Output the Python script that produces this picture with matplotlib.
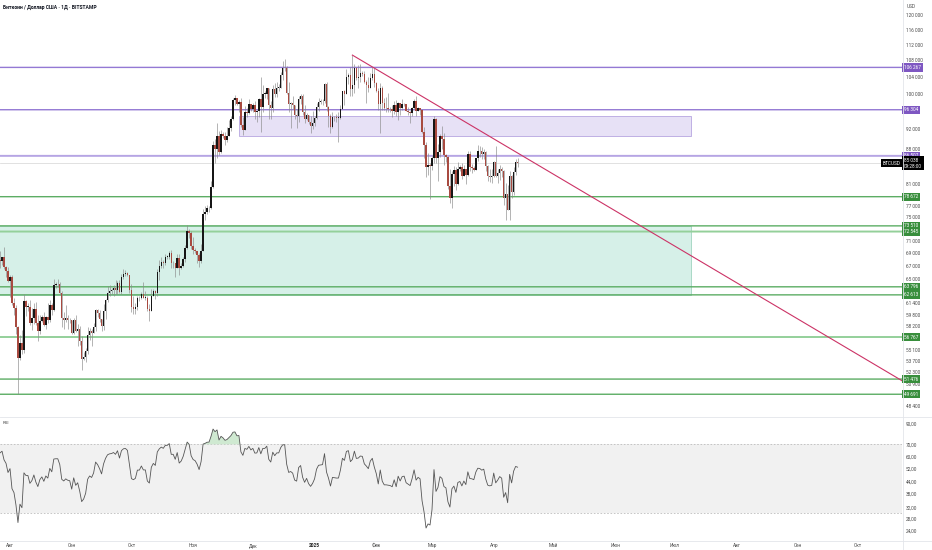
import numpy as np
import pandas as pd
import matplotlib
matplotlib.use("Agg")
import matplotlib.pyplot as plt
import matplotlib.dates as mdates
from matplotlib.patches import Rectangle
from matplotlib.lines import Line2D
from matplotlib.ticker import NullLocator
from matplotlib.transforms import blended_transform_factory

plt.rcParams['font.family'] = ['Roboto', 'DejaVu Sans']

############################ Dados do gráfico ############################
# preços em milhares de USD, velas diárias BTCUSD (Bitstamp)

# fechamentos anteriores à janela visível, só para aquecer o RSI (01/06 a 26/07/2024)
warmup_close = [67.8, 67.8, 68.8, 70.6, 71.1, 70.8, 69.3, 69.3, 69.6, 69.5,
                67.3, 68.2, 66.8, 66.0, 66.2, 66.6, 66.5, 65.2, 65.0, 64.9,
                64.1, 64.3, 63.2, 60.3, 61.8, 60.9, 61.6, 60.3, 60.9, 62.7,
                62.9, 62.1, 60.2, 57.0, 56.7, 58.2, 55.9, 56.7, 58.0, 57.7,
                57.3, 57.9, 59.2, 60.8, 64.8, 65.1, 64.1, 63.9, 66.7, 67.1,
                68.2, 67.6, 65.9, 65.4, 65.8, 67.9]

first_day = "2024-07-27"
first_open = 67.9

close = (
    [67.8, 68.3, 66.8, 66.2, 64.6] +  # jul
    [65.3, 61.5, 60.7, 58.1, 54.0, 56.0, 55.1, 61.7, 60.9, 60.9, 58.7, 59.3, 60.6, 58.7, 57.5, 58.9,
     59.5, 58.4, 59.5, 59.0, 61.2, 60.4, 64.1, 64.2, 64.2, 62.9, 59.4, 59.0, 59.4, 59.1, 59.0] +  # ago
    [57.3, 59.1, 57.5, 57.9, 56.2, 53.9, 54.2, 54.9, 57.0, 57.6, 57.3, 58.1, 60.5, 60.0, 59.2,
     58.2, 60.3, 61.8, 62.9, 63.2, 63.3, 63.6, 63.3, 64.3, 63.1, 65.2, 65.8, 65.9, 65.6, 63.3] +  # set
    [60.8, 60.6, 60.8, 62.1, 62.1, 62.8, 62.2, 62.2, 60.6, 60.3, 62.5, 63.2, 62.9, 66.0, 67.0, 67.6,
     67.4, 68.4, 68.4, 69.0, 67.4, 67.4, 66.7, 68.2, 66.6, 67.0, 68.0, 69.9, 72.7, 72.3, 70.2] +  # out
    [69.5, 69.3, 68.7, 67.8, 69.4, 75.6, 76.0, 76.6, 76.7, 80.4, 88.7, 87.9, 90.5, 87.3, 91.1,
     90.6, 89.8, 90.5, 92.3, 94.3, 98.4, 98.9, 97.7, 98.0, 93.0, 91.9, 95.9, 95.6, 97.5, 96.4] +  # nov
    [97.3, 95.9, 96.0, 98.8, 97.0, 99.9, 99.9, 101.2, 97.4, 96.6, 101.1, 100.0, 101.4, 101.4, 104.3, 106.1,
     106.1, 100.2, 97.5, 97.8, 97.3, 95.2, 94.9, 98.7, 99.4, 95.8, 94.2, 95.2, 93.6, 92.8, 93.4] +  # dez
    [94.4, 96.9, 98.1, 98.2, 98.3, 102.2, 96.9, 95.0, 92.5, 94.7, 94.6, 94.5, 94.5, 96.5, 100.5, 99.9,
     104.0, 104.4, 101.1, 102.0, 106.1, 103.7, 103.9, 104.8, 104.7, 102.6, 102.0, 101.3, 103.7, 104.7, 102.4] +  # jan
    [100.6, 97.7, 101.4, 97.8, 96.6, 96.6, 96.5, 96.4, 96.1, 97.4, 95.7, 97.8, 96.6, 97.5,
     97.6, 96.1, 95.8, 95.5, 96.6, 98.3, 96.1, 96.6, 96.3, 91.5, 88.7, 84.3, 84.7, 84.4] +  # fev
    [86.0, 94.3, 86.1, 87.2, 90.6, 89.9, 86.7, 86.2, 80.7, 78.5, 82.9, 83.7, 81.1, 84.0, 84.3, 82.6,
     84.0, 82.7, 86.8, 84.2, 84.1, 83.8, 86.1, 87.5, 87.4, 86.9, 87.2, 84.4, 82.6, 82.4, 82.5] +  # mar
    [85.2, 82.5, 83.1, 83.9, 83.5, 78.4, 79.2, 76.3, 82.6, 79.6, 83.4, 85.3, 85.038]  # abr
)

high = (
    [69.4, 68.4, 70.0, 66.9, 66.8] +
    [65.6, 65.6, 62.2, 61.1, 58.3, 57.0, 57.7, 62.7, 61.8, 61.5, 61.8, 60.7, 61.5, 61.6, 59.8, 59.8,
     59.7, 60.2, 59.6, 61.4, 61.8, 61.4, 64.9, 64.5, 65.0, 64.5, 63.2, 60.2, 61.2, 59.8, 59.4] +
    [59.0, 59.4, 59.8, 58.5, 58.3, 56.9, 54.8, 55.3, 58.1, 58.0, 57.9, 58.6, 60.6, 60.6, 60.4,
     59.2, 61.3, 62.0, 63.9, 64.1, 63.6, 64.0, 64.8, 64.6, 64.8, 65.8, 66.5, 66.3, 66.1, 65.6] +
    [64.2, 62.4, 61.5, 62.5, 62.4, 63.0, 64.5, 63.2, 62.5, 61.3, 63.4, 63.5, 63.3, 66.5, 67.9, 68.4,
     67.9, 68.9, 68.7, 69.4, 69.5, 67.8, 67.5, 68.8, 68.8, 67.4, 68.3, 70.3, 73.6, 72.9, 72.7] +
    [71.6, 69.9, 69.4, 69.0, 70.5, 76.4, 76.9, 77.2, 76.9, 81.5, 89.6, 89.9, 93.4, 91.7, 91.8,
     91.4, 91.4, 92.5, 94.0, 94.8, 98.9, 99.6, 98.9, 98.6, 98.9, 94.7, 97.2, 96.6, 98.7, 97.5] +
    [97.9, 98.2, 96.3, 99.0, 104.0, 101.9, 100.5, 101.4, 101.3, 98.3, 101.9, 102.5, 102.6, 102.3, 105.2, 107.8,
     108.3, 106.5, 102.8, 98.0, 99.5, 97.4, 96.4, 99.4, 99.9, 99.9, 97.3, 95.5, 95.2, 94.9, 96.1] +
    [94.9, 97.8, 98.9, 98.7, 98.8, 102.5, 102.7, 97.2, 95.3, 95.8, 94.9, 95.4, 95.9, 97.3, 100.6, 100.8,
     105.8, 104.9, 106.3, 109.35, 107.1, 106.3, 106.8, 107.1, 105.3, 105.5, 103.2, 103.8, 104.8, 106.4, 106.0] +
    [102.8, 101.4, 102.5, 101.8, 99.0, 99.2, 100.1, 96.9, 97.3, 98.3, 98.5, 98.1, 97.9, 98.8,
     97.9, 97.7, 97.0, 96.0, 96.9, 98.7, 99.5, 96.9, 96.6, 96.5, 92.5, 89.3, 87.0, 85.1] +
    [86.5, 95.0, 94.4, 88.9, 91.0, 92.8, 91.2, 86.9, 86.5, 84.0, 83.6, 84.4, 84.3, 85.3, 84.7, 85.0,
     84.7, 84.0, 87.4, 87.4, 84.8, 84.5, 86.1, 88.7, 88.5, 88.3, 87.8, 87.5, 84.6, 83.9, 83.9] +
    [85.5, 88.5, 83.9, 84.7, 84.2, 83.8, 81.2, 80.9, 83.5, 82.7, 84.3, 85.9, 86.1]
)

low = (
    [66.7, 67.1, 66.5, 65.3, 64.5] +
    [62.3, 61.2, 59.8, 57.2, 49.691, 53.8, 54.6, 54.7, 59.6, 60.3, 58.4, 57.7, 58.5, 58.4, 56.2, 57.1,
     58.8, 58.2, 57.8, 58.6, 58.8, 59.8, 60.3, 63.6, 63.8, 62.8, 58.1, 57.8, 58.8, 57.9, 58.7] +
    [57.2, 57.1, 57.4, 55.6, 55.7, 52.6, 53.8, 53.6, 54.6, 56.4, 55.6, 57.3, 57.6, 59.5, 58.8,
     57.5, 57.7, 59.2, 61.6, 62.4, 62.8, 62.4, 62.7, 62.7, 62.9, 62.7, 64.9, 65.4, 65.4, 62.9] +
    [60.2, 59.9, 59.9, 60.5, 61.7, 62.0, 62.1, 61.9, 60.3, 58.9, 60.4, 62.4, 62.0, 62.4, 64.8, 66.7,
     66.7, 67.1, 68.1, 68.1, 66.6, 66.6, 65.3, 66.6, 65.6, 66.5, 66.8, 67.6, 69.7, 71.4, 69.7] +
    [68.8, 69.0, 67.5, 66.8, 67.5, 69.4, 74.5, 75.6, 75.9, 76.5, 80.2, 85.1, 86.1, 86.7, 87.1,
     90.1, 88.8, 89.4, 90.7, 91.6, 94.1, 97.4, 97.3, 95.8, 92.6, 90.8, 91.8, 94.7, 95.4, 96.1] +
    [95.7, 94.3, 93.6, 94.7, 91.5, 95.9, 99.0, 98.7, 94.2, 94.3, 95.7, 99.3, 99.2, 100.6, 101.2, 103.3,
     105.3, 100.0, 95.7, 92.2, 96.4, 94.2, 92.4, 93.5, 97.6, 95.2, 93.4, 94.1, 93.2, 91.3, 92.0] +
    [92.8, 94.2, 96.1, 97.5, 97.3, 97.9, 96.1, 92.5, 91.2, 92.2, 93.8, 93.7, 89.3, 94.3, 96.5, 97.3,
     99.9, 102.3, 99.5, 99.5, 100.1, 103.3, 101.2, 102.8, 104.1, 102.5, 97.8, 100.3, 101.3, 103.3, 101.6] +
    [100.3, 96.2, 91.2, 96.2, 96.2, 95.7, 95.7, 95.7, 94.7, 95.3, 94.9, 94.1, 95.2, 96.3,
     97.2, 96.0, 95.2, 93.4, 95.0, 96.4, 94.8, 96.0, 95.2, 91.2, 86.1, 82.3, 82.8, 78.2] +
    [83.7, 85.1, 85.1, 81.5, 86.3, 87.8, 84.7, 85.2, 80.0, 77.5, 76.6, 80.6, 79.9, 80.8, 83.6, 82.0,
     82.5, 81.1, 82.5, 83.6, 83.2, 83.6, 83.8, 85.5, 86.3, 85.9, 85.8, 83.6, 81.6, 81.4, 81.3] +
    [82.4, 82.3, 81.2, 81.7, 82.4, 77.2, 74.5, 76.2, 74.6, 78.4, 78.9, 82.8, 84.3]
)

# níveis horizontais desenhados no gráfico
purple_levels = [106267, 96304, 86507]
green_levels = [78672, 73510, 72545, 63796, 62613, 56767, 51476, 49691]
last_price = 85038
time_left = "09:28:00"

# zonas (datas inicial/final, preço inferior/superior)
purple_zone = ("2024-11-24", "2025-07-09", 90600, 94900)
green_zone = ("2024-07-01", "2025-07-09", 62613, 73510)

# linha de tendência (dois pontos de ancoragem)
trend_pts = [("2025-01-20", 109350), ("2025-04-24", 84500)]

price_ticks = [120000, 116000, 112000, 108000, 104000, 100000, 92000, 88000, 81000,
               77000, 75000, 71000, 69000, 67000, 65000, 61400, 59800, 58200, 55100,
               53700, 52300, 50900, 48400]
rsi_ticks = [90, 70, 60, 52, 44, 38, 32, 28, 24]
month_labels = ['Авг', 'Сен', 'Окт', 'Ноя', 'Дек', '2025', 'Фев', 'Мар', 'Апр',
                'Май', 'Июн', 'Июл', 'Авг', 'Сен', 'Окт']
title = "Биткоин / Доллар США · 1Д · BITSTAMP"

########################################################################

c = np.array(close) * 1000
h = np.array(high) * 1000
l = np.array(low) * 1000
o = np.concatenate([[first_open * 1000], c[:-1]])
h = np.maximum(h, np.maximum(o, c))
l = np.minimum(l, np.minimum(o, c))
dates = pd.date_range(first_day, periods=len(c), freq="D")
x = mdates.date2num(dates.to_pydatetime())

# RSI 14 (Wilder)
allc = pd.Series(np.concatenate([np.array(warmup_close) * 1000, c]))
d = allc.diff()
g = d.clip(lower=0).ewm(alpha=1/14, adjust=False).mean()
ls = (-d.clip(upper=0)).ewm(alpha=1/14, adjust=False).mean()
rsi = (100 - 100 / (1 + g / ls)).to_numpy()[len(warmup_close):]

W, H = 932, 550
fig = plt.figure(figsize=(W / 100, H / 100), dpi=100)
fig.patch.set_facecolor('white')

def px_rect(x0, y0, x1, y1):
  return [x0 / W, 1 - y1 / H, (x1 - x0) / W, (y1 - y0) / H]

ax = fig.add_axes(px_rect(0, 0, 902, 415))
axr = fig.add_axes(px_rect(0, 418, 902, 540), sharex=ax)

aug1 = mdates.date2num(pd.Timestamp("2024-08-01").to_pydatetime())
ppd = 1.9906
xl = (aug1 - 10 / ppd, aug1 + 892 / ppd)

lab_fs = 3.4
txt_col = '#4a4a4a'

# --- painel de preço ---
ax.set_yscale('log')
ax.set_ylim(47350, 124300)
ax.set_xlim(*xl)

# zonas
for (d0, d1, p0, p1), fc, ec in [(green_zone, '#d6f0e8', '#9fd4bf'),
                                  (purple_zone, '#e7e1f6', '#b7a6e0')]:
  x0 = mdates.date2num(pd.Timestamp(d0).to_pydatetime())
  x1 = mdates.date2num(pd.Timestamp(d1).to_pydatetime())
  ax.add_patch(Rectangle((x0, p0), x1 - x0, p1 - p0, fc=fc, ec=ec, lw=0.6, zorder=1))

# níveis
thick = {86507, 72545, 56767}
for v in purple_levels:
  ax.axhline(v, color='#b6a5e4' if v in thick else '#9479d4',
             lw=1.4 if v in thick else 1.0, zorder=2, snap=False)
for v in green_levels:
  ax.axhline(v, color='#94d09a' if v in thick else '#5cad64',
             lw=1.4 if v in thick else 1.0, zorder=2, snap=False)
ax.axhline(last_price, color='#d4d4d4', lw=0.5, zorder=2)

# velas
up = c >= o
body_lo = np.minimum(o, c)
body_h = np.maximum(np.abs(c - o), c * 0.0012)
ax.vlines(x, l, h, color='#8a8a8a', lw=0.45, zorder=3)
ax.bar(x[up], body_h[up], bottom=body_lo[up], width=0.72, color='#161616', lw=0, zorder=4)
ax.bar(x[~up], body_h[~up], bottom=body_lo[~up], width=0.72, color='#a84a40', lw=0, zorder=4)

# linha de tendência estendida até a borda direita
tx = [mdates.date2num(pd.Timestamp(t).to_pydatetime()) for t, _ in trend_pts]
ty = [np.log(p) for _, p in trend_pts]
slope = (ty[1] - ty[0]) / (tx[1] - tx[0])
x_end = xl[1] + 5
ax.plot([tx[0], x_end], [trend_pts[0][1], np.exp(ty[0] + slope * (x_end - tx[0]))],
        color='#cc3366', lw=0.8, zorder=5)

ax.yaxis.tick_right()
ax.yaxis.set_minor_locator(NullLocator())
ax.set_yticks(price_ticks)
ax.set_yticklabels([f"{v:,}".replace(",", " ") for v in price_ticks])
ax.tick_params(axis='y', length=0, pad=2.8, labelsize=lab_fs, labelcolor=txt_col)
ax.tick_params(axis='x', length=0, labelbottom=False)
for s in ax.spines.values():
  s.set_visible(False)

tr = blended_transform_factory(ax.transAxes, ax.transData)
def axis_tag(a, trans, y, txt, fc):
  a.text(1 + 2 / 902, y, txt, transform=trans, ha='left', va='center', fontsize=lab_fs,
         color='white', clip_on=False, zorder=10,
         bbox=dict(boxstyle='square,pad=0.35', fc=fc, ec='none'))

for v in purple_levels:
  axis_tag(ax, tr, v, f"{v:,}".replace(",", " "), '#7e57c2')
for v in green_levels:
  axis_tag(ax, tr, v, f"{v:,}".replace(",", " "), '#388e3c')
axis_tag(ax, tr, last_price, f"{last_price:,}".replace(",", " ") + "\n" + time_left, '#000000')
ax.text(1 - 1 / 902, last_price, "BTCUSD", transform=tr, ha='right', va='center', fontsize=lab_fs,
        color='white', clip_on=False, zorder=10,
        bbox=dict(boxstyle='square,pad=0.35', fc='#000000', ec='none'))

# --- painel RSI ---
axr.set_yscale('log')
axr.set_ylim(21.5, 96.9)
axr.fill_between(xl, 30, 70, color='#f1f1f1', lw=0, zorder=1)
axr.axhline(70, color='#bdbdbd', lw=0.6, ls=(0, (2, 2)), zorder=2)
axr.axhline(30, color='#bdbdbd', lw=0.6, ls=(0, (2, 2)), zorder=2)
axr.fill_between(x, 70, rsi, where=rsi >= 70, interpolate=True, color='#cfe9d1', lw=0, zorder=2)
axr.plot(x, rsi, color='#555555', lw=0.6, zorder=3)

axr.yaxis.tick_right()
axr.yaxis.set_minor_locator(NullLocator())
axr.set_yticks(rsi_ticks)
axr.set_yticklabels([f"{v},00" for v in rsi_ticks])
axr.tick_params(axis='y', length=0, pad=2.8, labelsize=lab_fs, labelcolor=txt_col)
for s in axr.spines.values():
  s.set_visible(False)
axr.text(3 / 902, 0.955, "RSI", transform=axr.transAxes, fontsize=3.2, color=txt_col, va='center')

# eixo do tempo
month_starts = pd.date_range("2024-08-01", periods=len(month_labels), freq="MS")
axr.set_xticks(mdates.date2num(month_starts.to_pydatetime()))
axr.set_xticklabels(month_labels)
axr.xaxis.set_minor_locator(NullLocator())
axr.tick_params(axis='x', length=0, pad=2.0, labelsize=lab_fs, labelcolor=txt_col)
for t in axr.get_xticklabels():
  if t.get_text() == '2025':
    t.set_fontweight('bold')
    t.set_color('#222222')
axr.set_xlim(*xl)

# separadores
sep = '#e3e5ea'
fig.add_artist(Line2D([902.5 / W, 902.5 / W], [0, 1], color=sep, lw=0.6))
fig.add_artist(Line2D([0, 1], [1 - 416.5 / H, 1 - 416.5 / H], color=sep, lw=0.6))
fig.add_artist(Line2D([0, 1], [1 - 540.5 / H, 1 - 540.5 / H], color=sep, lw=0.6))

fig.text(3 / W, 1 - 7 / H, title, fontsize=3.6, fontweight='bold', color='#131722', va='center')
fig.text(907 / W, 1 - 6 / H, "USD", fontsize=lab_fs, color=txt_col, va='center')

fig.savefig("out.png", dpi=100, facecolor='white')
